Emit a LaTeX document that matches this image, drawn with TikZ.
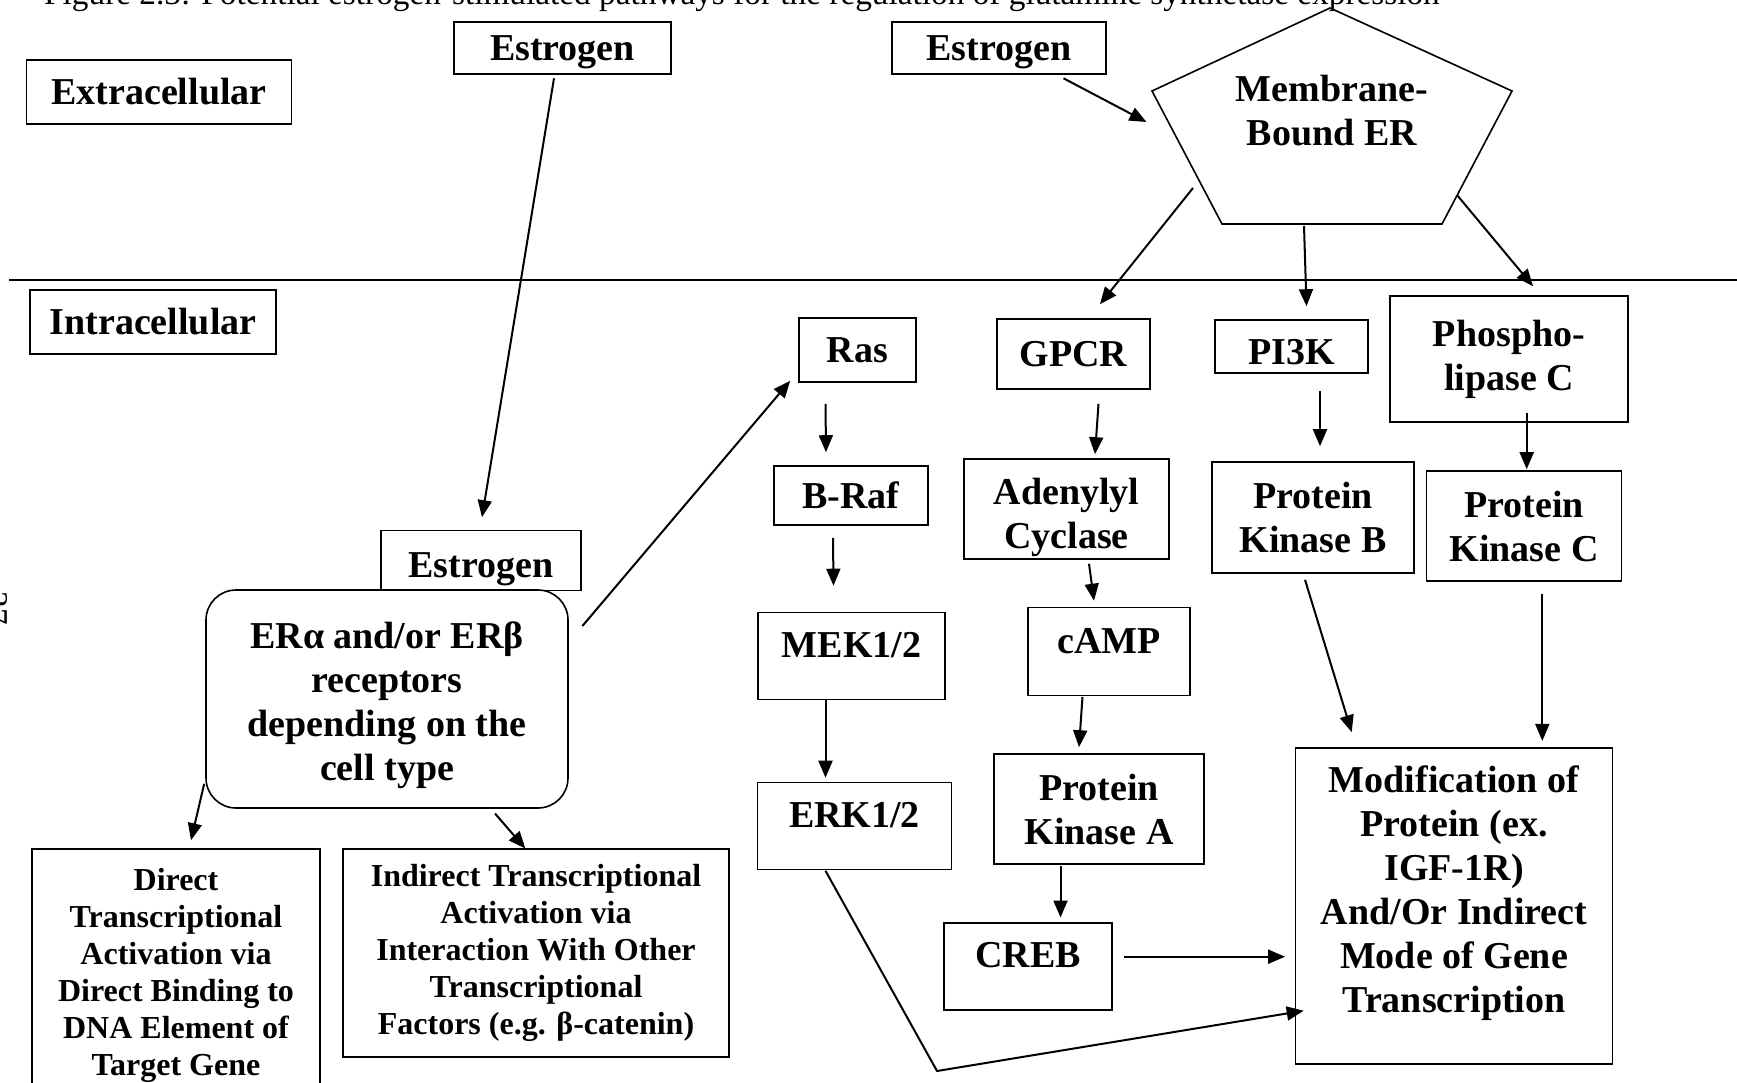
\documentclass[tikz,border=0pt]{standalone}
\usepackage{fontspec}
\setmainfont{Liberation Serif}
\usetikzlibrary{arrows.meta,positioning,calc}
\tikzset{
  pathbox/.style={draw, line width=1.6pt, fill=white, inner sep=0pt, align=center, font=\bfseries\fontsize{38}{44}\selectfont},
  notebox/.style={pathbox, font=\bfseries\fontsize{32}{37}\selectfont},
  lowgap/.style={text depth=22pt},
  sigarrow/.style={-{Triangle[length=17pt,width=14pt]}, line width=2pt},
}

\begin{document}
\begin{tikzpicture}[x=1pt, y=-1pt]
  \useasboundingbox (0,0) rectangle (1737,1082);
  \clip (0,0) rectangle (1737,1082);
  % caption and page number, both cut by the page edge
  \node[anchor=base west, inner sep=0pt, font=\fontsize{33.3}{40}\selectfont] (caption) at (44,4)
    {Figure 2.3: Potential estrogen-stimulated pathways for the regulation of glutamine synthetase expression};
  \node[rotate=-90, anchor=base, inner sep=0pt, font=\fontsize{33.3}{40}\selectfont] (pagenum) at (-14.5,608) {27};
  % compartments
  \node[pathbox, minimum width=265pt, minimum height=64pt] (extra) at (159,92) {Extracellular};
  \node[pathbox, minimum width=246pt, minimum height=64pt] (intra) at (153,322) {Intracellular};
  \draw[line width=1.8pt] (9,280) -- (1737,280);
  \node[pathbox, text height=34pt, minimum width=217pt, minimum height=52pt] (estA) at (562.5,48) {Estrogen};
  \node[pathbox, text height=34pt, minimum width=214pt, minimum height=52pt] (estB) at (999,48) {Estrogen};
  % membrane receptor
  \coordinate (pTop) at (1330,8);
  \coordinate (pRight) at (1512,91);
  \coordinate (pBR) at (1442,224);
  \coordinate (pBL) at (1222,224);
  \coordinate (pLeft) at (1152,91);
  \draw[line width=1.6pt] (pTop) -- (pRight) -- (pBR) -- (pBL) -- (pLeft) -- cycle;
  \node[align=center, font=\bfseries\fontsize{38}{44}\selectfont] (memb) at (1332,111) {Membrane-\\Bound ER};
  % nuclear receptor branch
  \node[pathbox, text height=42pt, minimum width=200pt, minimum height=60pt] (estC) at (481,560.5) {Estrogen};
  \node[pathbox, text height=171pt, rounded corners=30pt, minimum width=362pt, minimum height=218pt] (er) at (387,699)
    {ERα and/or ERβ\\receptors\\depending on the\\cell type};
  \node[notebox, minimum width=288pt, minimum height=252pt] (direct) at (176,975)
    {Direct\\Transcriptional\\Activation via\\Direct Binding to\\DNA Element of\\Target Gene};
  \node[notebox, minimum width=386pt, minimum height=208pt] (indirect) at (536,953)
    {Indirect Transcriptional\\Activation via\\Interaction With Other\\Transcriptional\\Factors (e.g. β-catenin)};
  % kinase cascades
  \node[pathbox, minimum width=117pt, minimum height=64pt] (ras) at (857.5,350) {Ras};
  \node[pathbox, minimum width=154pt, minimum height=59pt] (braf) at (851,495.5) {B-Raf};
  \node[pathbox, lowgap, minimum width=187pt, minimum height=87pt] (mek) at (851.5,656) {MEK1/2};
  \node[pathbox, lowgap, minimum width=194pt, minimum height=87pt] (erk) at (854.5,826) {ERK1/2};
  \node[pathbox, minimum width=153pt, minimum height=70pt] (gpcr) at (1073.5,354) {GPCR};
  \node[pathbox, text height=88pt, minimum width=205pt, minimum height=100pt] (adcy) at (1066.5,509) {Adenylyl\\Cyclase};
  \node[pathbox, lowgap, minimum width=162pt, minimum height=88pt] (camp) at (1109,651.5) {cAMP};
  \node[pathbox, minimum width=210pt, minimum height=110pt] (pka) at (1099,809) {Protein\\Kinase A};
  \node[pathbox, lowgap, minimum width=168pt, minimum height=87pt] (creb) at (1028,966.3) {CREB};
  \node[pathbox, text height=37pt, minimum width=153pt, minimum height=53pt] (pik) at (1291.5,346.5) {PI3K};
  \node[pathbox, minimum width=202pt, minimum height=111pt] (pkb) at (1313,517.5) {Protein\\Kinase B};
  \node[pathbox, minimum width=238pt, minimum height=126pt] (plc) at (1509,359) {Phospho-\\lipase C};
  \node[pathbox, minimum width=195pt, minimum height=110pt] (pkc) at (1524,526) {Protein\\Kinase C};
  \node[pathbox, text depth=34pt, minimum width=317pt, minimum height=316pt] (mod) at (1454,906)
    {Modification of\\Protein (ex.\\IGF-1R)\\And/Or Indirect\\Mode of Gene\\Transcription};
  % connectors
  \draw[sigarrow] ($(estA.south)+(-8.5,3.5)$) -- ($(estC.north)+(1,-12.5)$);
  \draw[sigarrow] ($(estB.south)+(64.5,3.5)$) -- ($(pLeft)+(-5.5,31)$);
  \draw[sigarrow] ($(pBL)+(-29,-36)$) -- ($(gpcr.north)+(26.5,-14)$);
  \draw[sigarrow] ($(pBL)+(82,2)$) -- ($(pik.north)+(15,-13)$);
  \draw[sigarrow] ($(pBR)+(15,-29)$) -- ($(plc.north)+(24,-9)$);
  \draw[sigarrow] ($(er.east)+(13.6,-73)$) -- ($(ras.south west)+(-8,-2)$);
  \draw[sigarrow] ($(ras.south)+(-32,21)$) -- ($(braf.north)+(-25,-13)$);
  \draw[sigarrow] ($(braf.south)+(-18,12)$) -- ($(mek.north)+(-18,-26)$);
  \draw[sigarrow] ($(mek.south)+(-26,0)$) -- ($(erk.north)+(-29,-4)$);
  \draw[sigarrow] ($(gpcr.south)+(25,14)$) -- ($(adcy.north)+(28.5,-4)$);
  \draw[sigarrow] ($(adcy.south)+(22.5,4)$) -- ($(camp.north)+(-15,-6)$);
  \draw[sigarrow] ($(camp.south)+(-26.5,0.5)$) -- ($(pka.north)+(-20,-6)$);
  \draw[sigarrow] ($(pka.south)+(-38.5,1)$) -- ($(creb.north)+(32.5,-4.5)$);
  \draw[sigarrow] ($(pik.south)+(28.5,17)$) -- ($(pkb.north)+(7,-15)$);
  \draw[sigarrow] ($(plc.south)+(17.7,-10)$) -- ($(pkc.north)+(2.7,-1)$);
  \draw[sigarrow] ($(pkb.south)+(-8,6)$) -- ($(mod.north)+(-102.3,-15)$);
  \draw[sigarrow] ($(pkc.south)+(18.3,12)$) -- ($(mod.north)+(88.3,-6.3)$);
  \draw[sigarrow] ($(creb.east)+(11,-9.6)$) -- ($(mod.west)+(-9.6,50.7)$);
  \coordinate (erkBend) at (937,1071);
  \draw[sigarrow] ($(erk.south)+(-29,0.5)$) -- (erkBend) -- ($(mod.west)+(9,104.7)$);
  \draw[sigarrow] ($(er.south west)+(-1,-25)$) -- ($(direct.north)+(15,-8)$);
  \draw[sigarrow] ($(er.south)+(108,4.7)$) -- ($(indirect.north)+(-10.7,0.3)$);
\end{tikzpicture}
\end{document}
